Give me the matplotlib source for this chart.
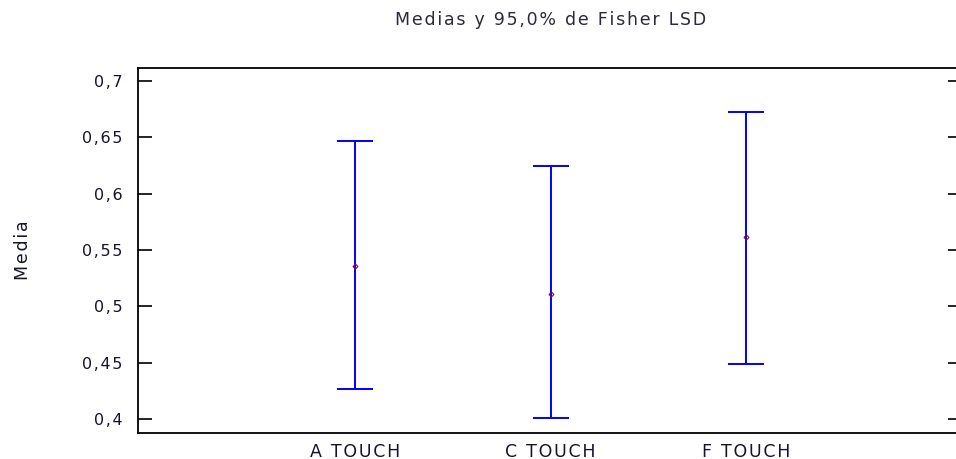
import numpy as np
import matplotlib
matplotlib.use('Agg')
import matplotlib.pyplot as plt

# Medias y limites LSD
grupos = ['A TOUCH', 'C TOUCH', 'F TOUCH']
medias = [0.536, 0.511, 0.561]
lim_inf = [0.427, 0.401, 0.449]
lim_sup = [0.647, 0.624, 0.672]
yticks = [0.4, 0.45, 0.5, 0.55, 0.6, 0.65, 0.7]
ytick_labels = ['0,4', '0,45', '0,5', '0,55', '0,6', '0,65', '0,7']

plt.rcParams['font.family'] = ['DejaVu Sans']
txtcol = '#14142a'

# espaciado entre letras, como en el original
def spaced(s):
    return '\u200a'.join(s)

fig = plt.figure(figsize=(9.56, 4.59), dpi=100)
ax = fig.add_axes([138/956, 1-433/459, (962-138)/956, (433-68)/459])

x = np.arange(len(grupos))
medias = np.array(medias)
err = [medias - np.array(lim_inf), np.array(lim_sup) - medias]
ax.errorbar(x, medias, yerr=err, fmt='none', ecolor='#0000ff', elinewidth=1.4,
            capsize=13, capthick=1.4)
ax.plot(x, medias, 'D', ms=2.5, mfc='none', mec='#900050', mew=0.8)

ax.set_xlim(-1.111, 3.105)
ax.set_ylim(0.3876, 0.7113)
ax.set_xticks(x)
ax.set_xticklabels([spaced(g) for g in grupos], fontsize=12.5, color=txtcol)
ax.set_yticks(yticks)
ax.set_yticklabels([spaced(t) for t in ytick_labels], fontsize=11.5, color=txtcol)
ax.tick_params(axis='x', length=0, pad=7)
ax.tick_params(axis='y', direction='in', length=10, width=1.2, right=True, pad=11)
for s in ax.spines.values():
    s.set_linewidth(1.3)

ax.set_ylabel(spaced('Media'), fontsize=12.5, color=txtcol, labelpad=36)
fig.text(551/956, 1-20/459, spaced('Medias y 95,0% de Fisher LSD'), ha='center',
         va='center', fontsize=12.5, color='#2a2a3a')

fig.savefig('out.png', dpi=100)
